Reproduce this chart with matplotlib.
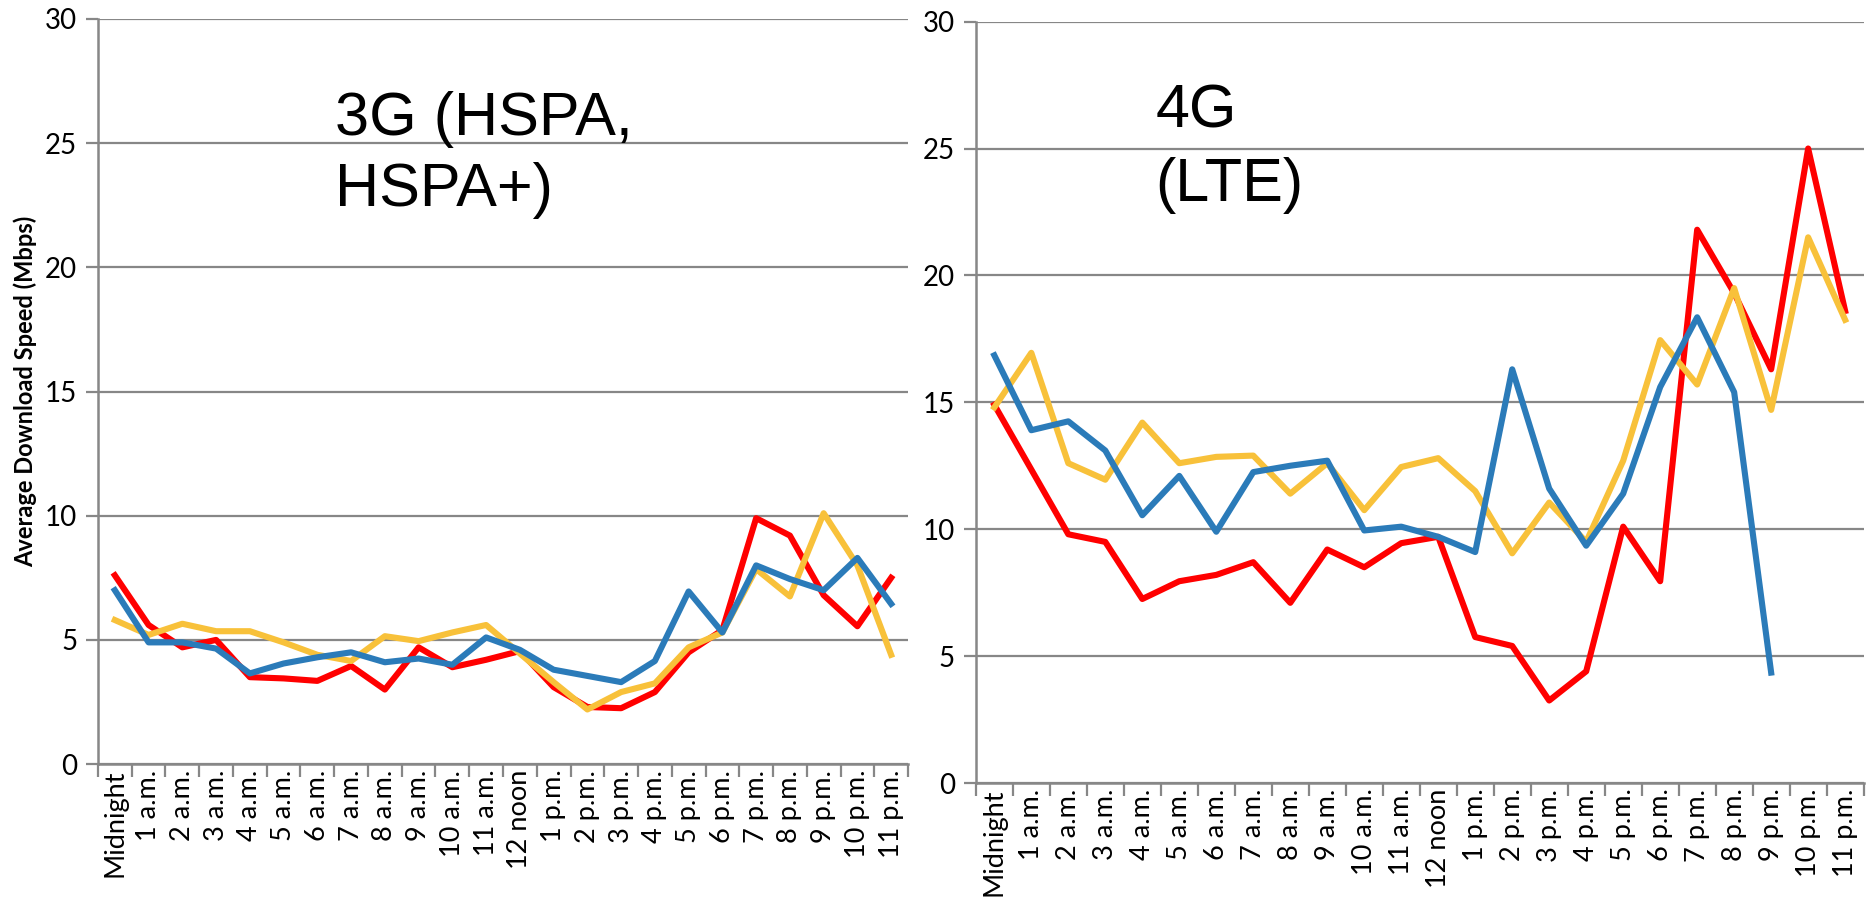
import matplotlib.pyplot as plt
from matplotlib.ticker import FixedLocator, NullFormatter

hours = ['Midnight', '1 a.m.', '2 a.m.', '3 a.m.', '4 a.m.', '5 a.m.', '6 a.m.',
         '7 a.m.', '8 a.m.', '9 a.m.', '10 a.m.', '11 a.m.', '12 noon',
         '1 p.m.', '2 p.m.', '3 p.m.', '4 p.m.', '5 p.m.', '6 p.m.', '7 p.m.',
         '8 p.m.', '9 p.m.', '10 p.m.', '11 p.m.']

# 3G (HSPA, HSPA+)
g3_red = [7.6, 5.6, 4.7, 5.0, 3.5, 3.45, 3.35, 3.95, 3.0, 4.7, 3.9, 4.2,
          4.55, 3.1, 2.3, 2.25, 2.9, 4.5, 5.4, 9.9, 9.2, 6.8, 5.55, 7.5]
g3_yellow = [5.8, 5.2, 5.65, 5.35, 5.35, 4.9, 4.4, 4.15, 5.15, 4.95, 5.3, 5.6,
             4.45, 3.3, 2.2, 2.9, 3.25, 4.7, 5.3, 7.85, 6.75, 10.1, 8.0, 4.4]
g3_blue = [7.0, 4.9, 4.9, 4.65, 3.65, 4.05, 4.3, 4.5, 4.1, 4.25, 4.0, 5.1,
           4.6, 3.8, 3.55, 3.3, 4.15, 6.95, 5.3, 8.0, 7.45, 7.0, 8.3, 6.45]

# 4G (LTE)
g4_red = [14.9, 12.35, 9.8, 9.5, 7.25, 7.95, 8.2, 8.7, 7.1, 9.2, 8.5, 9.45,
          9.7, 5.75, 5.4, 3.25, 4.4, 10.1, 7.95, 21.8, 19.3, 16.3, 25.0, 18.6]
g4_yellow = [14.8, 16.95, 12.6, 11.95, 14.2, 12.6, 12.85, 12.9, 11.4, 12.6, 10.75, 12.45,
             12.8, 11.5, 9.05, 11.05, 9.5, 12.7, 17.45, 15.7, 19.5, 14.7, 21.5, 18.25]
g4_blue = [16.85, 13.9, 14.25, 13.1, 10.55, 12.1, 9.9, 12.25, 12.5, 12.7, 9.95, 10.1,
           9.7, 9.1, 16.3, 11.6, 9.35, 11.4, 15.6, 18.35, 15.4, 4.35]

RED = '#FF0000'
YELLOW = '#F8C13A'
BLUE = '#2B7BB9'
GRAY = '#878787'
TICK_FONT = 'Lato'
LW = 4.4

fig = plt.figure(figsize=(18.73, 9), dpi=100)
ax1 = fig.add_axes([0.0523, 0.151, 0.4325, 0.828])
ax2 = fig.add_axes([0.521, 0.130, 0.474, 0.846])


def style(ax):
    ax.set_xlim(-0.5, len(hours) - 0.5)
    ax.set_ylim(0, 30)
    ax.set_yticks(range(0, 31, 5))
    ax.grid(axis='y', color=GRAY, lw=1.6)
    ax.set_axisbelow(True)
    for s in ['top', 'right']:
        ax.spines[s].set_visible(False)
    for s in ['left', 'bottom']:
        ax.spines[s].set_color(GRAY)
        ax.spines[s].set_linewidth(1.8)
    ax.set_xticks(range(len(hours)))
    ax.set_xticklabels(hours, rotation=90, fontsize=19.5, family=TICK_FONT)
    ax.tick_params(axis='x', which='major', length=0, pad=4)
    ax.xaxis.set_minor_locator(FixedLocator([i - 0.5 for i in range(len(hours) + 1)]))
    ax.xaxis.set_minor_formatter(NullFormatter())
    ax.tick_params(axis='x', which='minor', length=9, width=1.6, color=GRAY)
    ax.tick_params(axis='y', length=9, width=1.6, color=GRAY, pad=6)
    for lab in ax.get_yticklabels():
        lab.set_fontsize(20)
        lab.set_family(TICK_FONT)


style(ax1)
style(ax2)

x3 = range(len(hours))
ax1.plot(x3, g3_red, color=RED, lw=LW, zorder=3)
ax1.plot(x3, g3_yellow, color=YELLOW, lw=LW, zorder=3)
ax1.plot(x3, g3_blue, color=BLUE, lw=LW, zorder=4)

ax2.plot(range(len(g4_red)), g4_red, color=RED, lw=LW, zorder=3)
ax2.plot(range(len(g4_yellow)), g4_yellow, color=YELLOW, lw=LW, zorder=3)
ax2.plot(range(len(g4_blue)), g4_blue, color=BLUE, lw=LW, zorder=4)

ax1.set_ylabel('Average Download Speed (Mbps)', fontsize=17, fontweight='bold',
               family='Lato')
ax1.yaxis.set_label_coords(-0.075, 0.5)

fig.text(0.179, 0.899, '3G (HSPA,\nHSPA+)', fontsize=44, family='Liberation Sans',
         va='top', ha='left', linespacing=1.31)
fig.text(0.617, 0.907, '4G\n(LTE)', fontsize=44, family='Liberation Sans',
         va='top', ha='left', linespacing=1.36)

fig.savefig('out.png', dpi=100)
